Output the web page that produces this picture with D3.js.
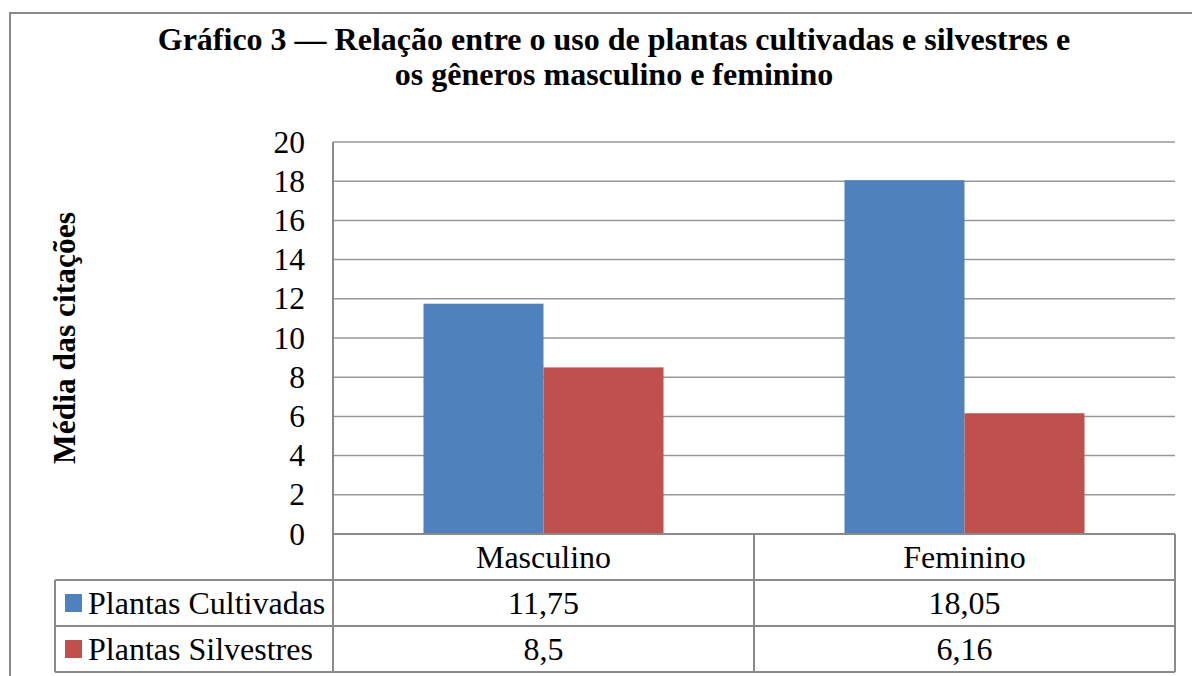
<!DOCTYPE html>
<html>
<head>
<meta charset="utf-8">
<script src="https://cdn.jsdelivr.net/npm/d3@7"></script>
<style>
  body { margin: 0; background: #fff; }
</style>
</head>
<body>
<div id="chart"></div>
<script>
// data
var categories = ["Masculino", "Feminino"];
var seriesNames = ["Plantas Cultivadas", "Plantas Silvestres"];
var cultivadas = [11.75, 18.05];
var silvestres = [8.5, 6.16];
var yTicks = [0, 2, 4, 6, 8, 10, 12, 14, 16, 18, 20];
var titleLines = ["Gráfico 3 — Relação entre o uso de plantas cultivadas e silvestres e",
                  "os gêneros masculino e feminino"];
var yTitle = "Média das citações";
var colors = ["#4F81BD", "#C0504D"];

var values = [cultivadas, silvestres];

var width = 1192, height = 676;
var plot = {left: 333, right: 1175, top: 142, bottom: 534};
var rowH = 46, legendLeft = 55;
var fs = 32;
var serif = "Liberation Serif";

var svg = d3.select("#chart").append("svg")
    .attr("width", width)
    .attr("height", height)
    .attr("font-family", serif);

// outer frame (runs past the right/bottom edge)
svg.append("rect")
    .attr("x", 10).attr("y", 13)
    .attr("width", 1200).attr("height", 700)
    .attr("fill", "none")
    .attr("stroke", "#8a8a8a")
    .attr("stroke-width", 2);

// title
svg.selectAll(".title")
    .data(titleLines)
    .enter().append("text")
    .attr("class", "title")
    .attr("x", 614)
    .attr("y", function(d, i) { return 50 + i * 35; })
    .attr("text-anchor", "middle")
    .attr("font-family", serif)
    .attr("font-size", fs)
    .attr("font-weight", "bold")
    .text(function(d) { return d; });

var x = d3.scaleBand().domain(categories).range([plot.left, plot.right]).padding(0);
var x1 = d3.scaleBand().domain(seriesNames).range([0, x.bandwidth()]).paddingInner(0).paddingOuter(0.754);
var y = d3.scaleLinear().domain([0, 20]).range([plot.bottom, plot.top]);

// gridlines
svg.append("g")
    .selectAll("line")
    .data(yTicks.filter(function(d) { return d > 0; }))
    .enter().append("line")
    .attr("x1", plot.left).attr("x2", plot.right)
    .attr("y1", function(d) { return y(d); })
    .attr("y2", function(d) { return y(d); })
    .attr("stroke", "#989898")
    .attr("stroke-width", 1.5);

// y axis labels
var yAxis = svg.append("g")
    .attr("transform", "translate(" + plot.left + ",0)")
    .call(d3.axisLeft(y).tickValues(yTicks).tickSize(0).tickPadding(28));
yAxis.attr("font-family", serif).attr("font-size", 31.5);
yAxis.select(".domain").remove();
yAxis.selectAll("text").attr("fill", "#000");

// y axis title
svg.append("text")
    .attr("transform", "translate(75," + 338 + ") rotate(-90)")
    .attr("text-anchor", "middle")
    .attr("font-size", 31.5)
    .attr("font-weight", "bold")
    .text(yTitle);

// bars
var groups = svg.append("g")
    .selectAll("g")
    .data(seriesNames)
    .enter().append("g")
    .attr("fill", function(d, i) { return colors[i]; });

groups.selectAll("rect")
    .data(function(d, i) {
        return categories.map(function(c, j) { return {s: d, c: c, v: values[i][j]}; });
    })
    .enter().append("rect")
    .attr("x", function(d) { return x(d.c) + x1(d.s); })
    .attr("width", x1.bandwidth())
    .attr("y", function(d) { return y(d.v); })
    .attr("height", function(d) { return y(0) - y(d.v); });

// data table
var tableBottom = plot.bottom + rowH * 3;
var grid = svg.append("g")
    .attr("stroke", "#8a8a8a")
    .attr("stroke-width", 2);

// x axis / table top
grid.append("line")
    .attr("x1", plot.left).attr("x2", plot.right)
    .attr("y1", plot.bottom).attr("y2", plot.bottom);

// row lines
[1, 2, 3].forEach(function(r) {
    grid.append("line")
        .attr("x1", legendLeft).attr("x2", plot.right)
        .attr("y1", plot.bottom + r * rowH).attr("y2", plot.bottom + r * rowH);
});

// y axis line and vertical dividers
grid.append("line")
    .attr("x1", plot.left).attr("x2", plot.left)
    .attr("y1", plot.top).attr("y2", tableBottom);
categories.forEach(function(c) {
    grid.append("line")
        .attr("x1", x(c) + x.bandwidth()).attr("x2", x(c) + x.bandwidth())
        .attr("y1", plot.bottom).attr("y2", tableBottom);
});
grid.append("line")
    .attr("x1", legendLeft).attr("x2", legendLeft)
    .attr("y1", plot.bottom + rowH).attr("y2", tableBottom);

// category labels
svg.append("g")
    .selectAll("text")
    .data(categories)
    .enter().append("text")
    .attr("x", function(d) { return x(d) + x.bandwidth() / 2; })
    .attr("y", plot.bottom + rowH / 2)
    .attr("dy", "0.35em")
    .attr("text-anchor", "middle")
    .attr("font-size", fs)
    .text(function(d) { return d; });

// legend keys + series names + values
seriesNames.forEach(function(s, i) {
    var cy = plot.bottom + rowH * (i + 1.5);
    svg.append("rect")
        .attr("x", 65).attr("y", cy - 9)
        .attr("width", 17).attr("height", 18)
        .attr("fill", colors[i]);
    svg.append("text")
        .attr("x", 88).attr("y", cy)
        .attr("dy", "0.35em")
        .attr("font-size", fs)
        .text(s);
    svg.append("g")
        .selectAll("text")
        .data(values[i])
        .enter().append("text")
        .attr("x", function(d, j) { return x(categories[j]) + x.bandwidth() / 2; })
        .attr("y", cy)
        .attr("dy", "0.35em")
        .attr("text-anchor", "middle")
        .attr("font-size", fs)
        .text(function(d) { return String(d).replace(".", ","); });
});
</script>
</body>
</html>
